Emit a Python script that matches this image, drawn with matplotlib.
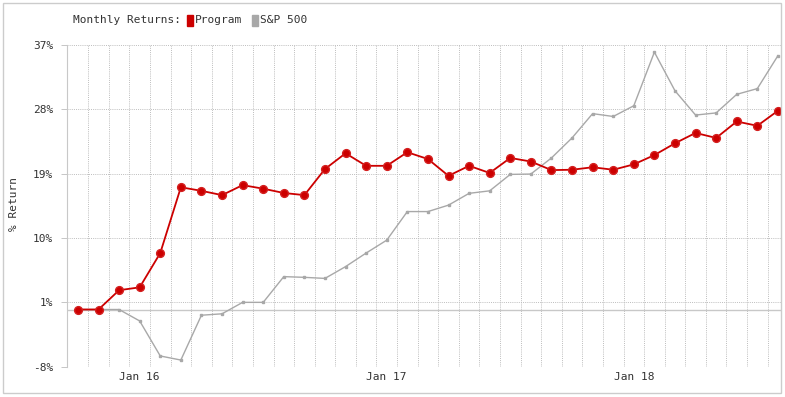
import numpy as np
import pandas as pd
import matplotlib
matplotlib.use("Agg")
import matplotlib.pyplot as plt
from matplotlib.patches import Rectangle

# monthly points, Oct 2015 .. Aug 2018
months = pd.date_range("2015-10-01", periods=35, freq="MS")

program = [0, 0, 2.7, 3.1, 7.9, 17.1, 16.6, 16.0, 17.4, 16.9,
           16.3, 16.0, 19.65, 21.85, 20.1, 20.1, 22.0, 21.05, 18.7, 20.1,
           19.1, 21.2, 20.7, 19.5, 19.55, 19.9, 19.55, 20.3, 21.6, 23.25,
           24.7, 24.0, 26.3, 25.7, 27.8]
sp500 = [0, 0, 0, -1.6, -6.5, -7.07, -0.8, -0.6, 1.0, 1.0,
         4.6, 4.5, 4.35, 6.0, 7.9, 9.7, 13.7, 13.7, 14.6, 16.25,
         16.6, 18.9, 18.95, 21.2, 24.0, 27.4, 27.0, 28.5, 36.0, 30.6,
         27.2, 27.5, 30.1, 30.9, 35.5]

y_ticks = [-8, 1, 10, 19, 28, 37]
legend_title = "Monthly Returns:"
series_names = ["Program", "S&P 500"]

RED = "#cc0000"
GREY = "#a8a8a8"
GRID = "#bdbdbd"
TXT = "#333333"
mono = "DejaVu Sans Mono"

W, H = 785, 397
fig = plt.figure(figsize=(W / 100, H / 100), dpi=100)
ax = fig.add_axes([67 / W, (H - 366.7) / H, (781 - 67) / W, 321.7 / H])

x = np.arange(len(months))
ax.set_xlim(-0.53, 34.15)
ax.set_ylim(-8, 37)

# grid: horizontal at ticks, vertical between months
for v in y_ticks:
    ax.axhline(v, color=GRID, lw=0.7, ls=(0, (1, 1.2)), zorder=1)
for xv in x[:-1] + 0.5:
    ax.axvline(xv, color=GRID, lw=0.7, ls=(0, (1, 1.2)), zorder=1)
ax.axhline(0, color="#c8c8c8", lw=1.0, zorder=1)

ax.plot(x, sp500, color=GREY, lw=1.0, marker="s", ms=1.8, zorder=2)
ax.plot(x, program, color=RED, lw=1.3, marker="o", ms=5.6,
        markeredgecolor="#d42020", zorder=3)

jan = [i for i, m in enumerate(months) if m.month == 1]
ax.set_xticks(jan)
ax.set_xticklabels([m.strftime("Jan %y") for m in months[jan]],
                   fontfamily=mono, fontsize=8, color=TXT)
ax.tick_params(axis="x", length=0, pad=4)

ax.set_yticks(y_ticks)
ax.set_yticklabels([f"{v}%" for v in y_ticks], fontfamily=mono, fontsize=8, color=TXT)
ax.tick_params(axis="y", length=4, width=0.6, color=GRID, pad=6)

for s in ["top", "right", "bottom"]:
    ax.spines[s].set_visible(False)
ax.spines["left"].set_color("#c8c8c8")

fig.text(14 / W, 1 - 204 / H, "% Return", rotation=90, ha="center", va="center",
         fontfamily=mono, fontsize=8, color=TXT)

# outer frame
fig.patches.append(Rectangle((3 / W, (H - 393) / H), 778 / W, 390 / H,
                             transform=fig.transFigure, fill=False,
                             edgecolor="#cccccc", lw=1.0))

# legend line across the top
ty = 1 - 20 / H
fig.text(73 / W, ty, legend_title, ha="left", va="center",
         fontfamily=mono, fontsize=8, color=TXT)
fig.patches.append(Rectangle((187 / W, 1 - 26 / H), 6 / W, 11 / H,
                             transform=fig.transFigure, color=RED))
fig.text(195 / W, ty, series_names[0], ha="left", va="center",
         fontfamily=mono, fontsize=8, color=TXT)
fig.patches.append(Rectangle((252 / W, 1 - 26 / H), 6 / W, 11 / H,
                             transform=fig.transFigure, color=GREY))
fig.text(260 / W, ty, series_names[1], ha="left", va="center",
         fontfamily=mono, fontsize=8, color=TXT)

fig.savefig("out.png", dpi=100)
